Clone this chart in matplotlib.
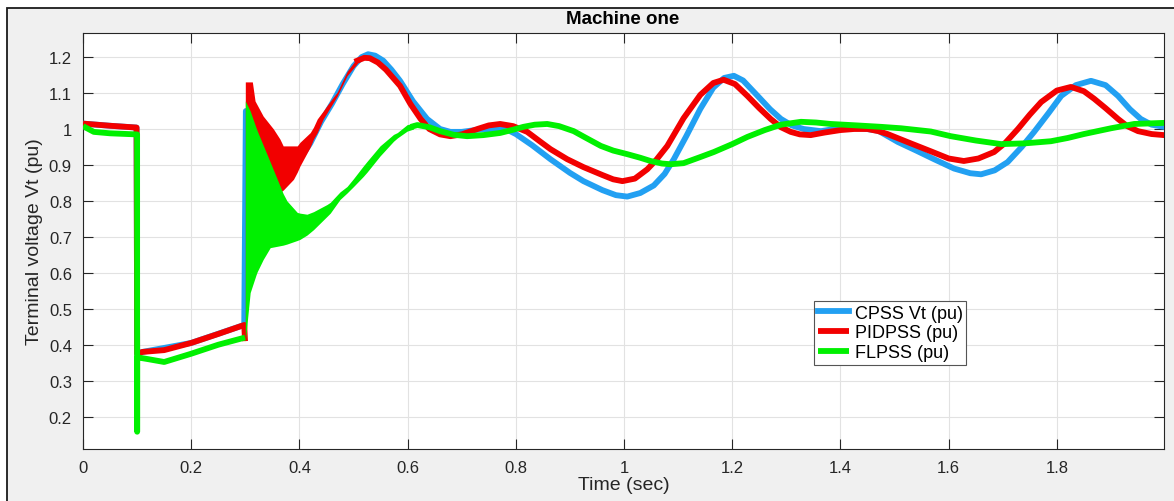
import matplotlib
matplotlib.use('Agg')
import matplotlib.pyplot as plt
from matplotlib.patches import Rectangle

plt.rcParams['font.family'] = ['Liberation Sans', 'DejaVu Sans']

# ---- data ----
# CPSS (blue): mostly hidden under red before ~0.47 s
cpss_t = [0.0, 0.05, 0.099, 0.1001, 0.11, 0.2, 0.298, 0.301, 0.33, 0.36, 0.38, 0.40,
          0.42, 0.44, 0.46, 0.48, 0.50, 0.515, 0.527, 0.54, 0.555, 0.57, 0.586, 0.61,
          0.636, 0.66, 0.679, 0.70, 0.73, 0.76, 0.784, 0.80, 0.83, 0.864, 0.90, 0.925,
          0.96, 0.985, 1.006, 1.03, 1.055, 1.075, 1.092, 1.115, 1.141, 1.165, 1.185,
          1.203, 1.22, 1.247, 1.27, 1.29, 1.31, 1.332, 1.364, 1.40, 1.44, 1.47, 1.506,
          1.54, 1.573, 1.61, 1.64, 1.66, 1.685, 1.709, 1.735, 1.758, 1.785, 1.808,
          1.835, 1.863, 1.89, 1.913, 1.935, 1.955, 1.975, 1.998]
cpss_v = [1.015, 1.009, 1.004, 0.375, 0.38, 0.405, 0.455, 1.05, 0.98, 0.92, 0.89, 0.915,
          0.96, 1.02, 1.07, 1.125, 1.175, 1.2, 1.208, 1.204, 1.19, 1.165, 1.134, 1.077,
          1.028, 1.0, 0.992, 0.992, 0.998, 1.0, 0.998, 0.986, 0.955, 0.916, 0.878, 0.855,
          0.83, 0.816, 0.812, 0.822, 0.843, 0.875, 0.916, 0.98, 1.056, 1.115, 1.142,
          1.148, 1.135, 1.092, 1.055, 1.028, 1.01, 1.0, 0.994, 1.003, 1.002, 0.995, 0.964,
          0.94, 0.916, 0.89, 0.877, 0.874, 0.885, 0.908, 0.95, 0.992, 1.045, 1.092,
          1.122, 1.134, 1.122, 1.092, 1.055, 1.028, 1.012, 1.006]

# PIDPSS (red): line before the fault clearing
pid_t1 = [0.0, 0.05, 0.099, 0.1001, 0.11, 0.15, 0.2, 0.25, 0.298, 0.2995]
pid_v1 = [1.015, 1.009, 1.004, 0.375, 0.38, 0.385, 0.405, 0.43, 0.455, 0.41]
# PIDPSS oscillation band (outer edges)
pid_band_t = [0.300, 0.304, 0.313, 0.318, 0.333, 0.352, 0.364, 0.370, 0.389, 0.396,
              0.401, 0.420, 0.426, 0.433, 0.444, 0.451, 0.470, 0.488, 0.507]
pid_band_hi = [1.131, 1.131, 1.131, 1.078, 1.036, 1.0, 0.972, 0.953, 0.953, 0.953,
               0.963, 0.99, 1.005, 1.028, 1.05, 1.065, 1.103, 1.16, 1.198]
pid_band_lo = [0.405, 0.90, 0.89, 0.88, 0.87, 0.85, 0.824, 0.83, 0.86, 0.88,
               0.897, 0.95, 0.972, 0.99, 1.028, 1.045, 1.092, 1.148, 1.182]
# PIDPSS line after the band
pid_t2 = [0.507, 0.52, 0.53, 0.545, 0.56, 0.586, 0.605, 0.624, 0.64, 0.66, 0.679, 0.70,
          0.729, 0.75, 0.771, 0.795, 0.821, 0.845, 0.864, 0.895, 0.925, 0.96, 0.98,
          0.997, 1.02, 1.043, 1.06, 1.08, 1.11, 1.141, 1.165, 1.184, 1.205, 1.228, 1.25,
          1.271, 1.29, 1.308, 1.325, 1.345, 1.37, 1.40, 1.425, 1.45, 1.47, 1.487, 1.53,
          1.567, 1.60, 1.628, 1.655, 1.684, 1.705, 1.728, 1.75, 1.771, 1.80, 1.826, 1.85,
          1.869, 1.89, 1.913, 1.93, 1.95, 1.975, 1.998]
pid_v2 = [1.19, 1.198, 1.197, 1.185, 1.165, 1.12, 1.07, 1.028, 1.0, 0.985, 0.98, 0.985,
          1.0, 1.01, 1.014, 1.008, 0.992, 0.965, 0.944, 0.916, 0.894, 0.872, 0.86,
          0.855, 0.862, 0.888, 0.915, 0.953, 1.03, 1.095, 1.128, 1.137, 1.125, 1.092, 1.058,
          1.028, 1.005, 0.992, 0.985, 0.983, 0.99, 0.997, 1.0, 1.0, 0.994, 0.986, 0.96,
          0.938, 0.918, 0.911, 0.918, 0.936, 0.962, 1.0, 1.04, 1.075, 1.107, 1.117, 1.105,
          1.084, 1.058, 1.028, 1.008, 0.994, 0.986, 0.983]

# FLPSS (green)
fl_t1 = [0.0, 0.01, 0.02, 0.05, 0.099, 0.1, 0.1001, 0.1002, 0.12, 0.15, 0.2, 0.25, 0.2995]
fl_v1 = [1.008, 1.0, 0.992, 0.988, 0.985, 0.985, 0.158, 0.365, 0.36, 0.352, 0.375, 0.4, 0.42]
fl_band_t = [0.300, 0.309, 0.320, 0.322, 0.333, 0.346, 0.370, 0.377, 0.396, 0.401, 0.414,
             0.426, 0.451, 0.457, 0.475, 0.488, 0.500, 0.518, 0.525, 0.549, 0.574, 0.581,
             0.599, 0.611]
fl_band_hi = [1.078, 1.05, 1.003, 0.995, 0.955, 0.908, 0.82, 0.80, 0.768, 0.766, 0.763,
              0.77, 0.79, 0.796, 0.825, 0.84, 0.862, 0.897, 0.91, 0.953, 0.985, 0.99,
              1.012, 1.016]
fl_band_lo = [0.41, 0.545, 0.595, 0.603, 0.637, 0.67, 0.677, 0.68, 0.69, 0.693, 0.705,
              0.72, 0.757, 0.766, 0.804, 0.822, 0.84, 0.868, 0.88, 0.925, 0.966, 0.975,
              0.994, 1.0]
fl_t2 = [0.611, 0.618, 0.64, 0.66, 0.685, 0.71, 0.74, 0.771, 0.795, 0.814, 0.835, 0.858,
         0.88, 0.907, 0.93, 0.957, 0.98, 1.006, 1.03, 1.049, 1.07, 1.086, 1.11, 1.141,
         1.166, 1.20, 1.228, 1.26, 1.29, 1.327, 1.355, 1.382, 1.43, 1.475, 1.512, 1.567,
         1.604, 1.65, 1.697, 1.74, 1.789, 1.82, 1.85, 1.90, 1.943, 1.998]
fl_v2 = [1.008, 1.011, 1.005, 0.994, 0.984, 0.98, 0.983, 0.989, 0.998, 1.006, 1.012, 1.014,
         1.008, 0.994, 0.975, 0.953, 0.94, 0.93, 0.92, 0.911, 0.904, 0.902, 0.905, 0.922,
         0.936, 0.958, 0.978, 0.997, 1.012, 1.02, 1.018, 1.014, 1.01, 1.006, 1.002, 0.993,
         0.98, 0.968, 0.958, 0.96, 0.966, 0.975, 0.986, 1.002, 1.014, 1.017]

x_ticks = [0, 0.2, 0.4, 0.6, 0.8, 1.0, 1.2, 1.4, 1.6, 1.8]
x_tick_labels = ['0', '0.2', '0.4', '0.6', '0.8', '1', '1.2', '1.4', '1.6', '1.8']
y_ticks = [0.2, 0.3, 0.4, 0.5, 0.6, 0.7, 0.8, 0.9, 1.0, 1.1, 1.2]
y_tick_labels = ['0.2', '0.3', '0.4', '0.5', '0.6', '0.7', '0.8', '0.9', '1', '1.1', '1.2']

BLUE = '#22a0f2'
RED = '#f20000'
GREEN = '#00f000'
LW = 4.2
TXT = '#262626'

fig = plt.figure(figsize=(11.74, 5.02), dpi=100, facecolor='white')
# matlab-style grey panel with a dark frame on the left and top
fig.add_artist(Rectangle((7 / 1174, -0.05), 1.1, (502 - 9) / 502 + 0.05,
                         transform=fig.transFigure, facecolor='#f0f0f0',
                         edgecolor='#1a1a1a', linewidth=1.3, clip_on=False, zorder=0))

ax = fig.add_axes([83 / 1174, 52 / 502, 1081 / 1174, 416 / 502])
ax.set_facecolor('white')

ax.plot(cpss_t, cpss_v, color=BLUE, lw=LW, solid_joinstyle='round', label='CPSS Vt (pu)', zorder=3)

ax.plot(pid_t1, pid_v1, color=RED, lw=LW, solid_capstyle='butt', zorder=4, label='PIDPSS (pu)')
ax.fill_between(pid_band_t, pid_band_lo, pid_band_hi, color=RED, lw=0, zorder=4)
ax.plot(pid_t2, pid_v2, color=RED, lw=LW, solid_joinstyle='round', zorder=4)

ax.plot(fl_t1, fl_v1, color=GREEN, lw=LW, solid_capstyle='butt', zorder=5, label='FLPSS (pu)')
ax.fill_between(fl_band_t, fl_band_lo, fl_band_hi, color=GREEN, lw=0, zorder=5)
ax.plot(fl_t2, fl_v2, color=GREEN, lw=LW, solid_joinstyle='round', zorder=5)

ax.set_xlim(0, 1.998)
ax.set_ylim(0.11, 1.267)
ax.set_xticks(x_ticks)
ax.set_xticklabels(x_tick_labels)
ax.set_yticks(y_ticks)
ax.set_yticklabels(y_tick_labels)
ax.grid(True, color='#e2e2e2', linewidth=0.8)
ax.set_axisbelow(True)
ax.tick_params(direction='in', length=7, width=0.8, color=TXT, labelcolor=TXT,
               labelsize=12, top=True, right=True, pad=8)
for sp in ax.spines.values():
    sp.set_color(TXT)
    sp.set_linewidth(0.8)

ax.set_xlabel('Time (sec)', fontsize=14, color=TXT, labelpad=1)
ax.set_ylabel('Terminal voltage Vt (pu)', fontsize=14, color=TXT, labelpad=4)
fig.text(623 / 1174, (502 - 19) / 502, 'Machine one', ha='center', va='center',
         fontsize=13.5, fontweight='bold', color='black')

leg = ax.legend(loc='upper left', bbox_to_anchor=((814 - 83) / 1081, (450 - 302) / 416),
                borderaxespad=0, fontsize=13, fancybox=False, framealpha=1,
                edgecolor='#555555', handlelength=1.75, handletextpad=0.3,
                borderpad=0.2, labelspacing=0.15)
leg.get_frame().set_linewidth(0.8)

fig.savefig('out.png', dpi=100, facecolor=fig.get_facecolor())
